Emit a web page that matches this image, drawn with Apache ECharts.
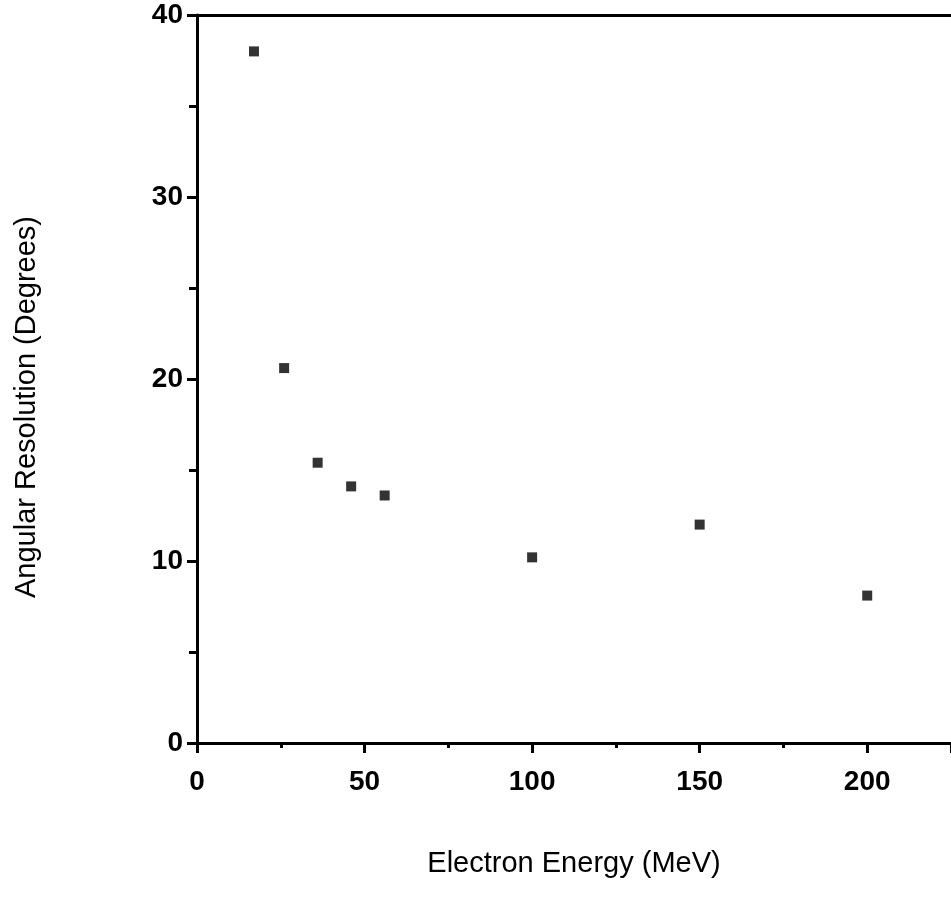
<!DOCTYPE html>
<html>
<head>
<meta charset="utf-8">
<script src="https://cdn.jsdelivr.net/npm/echarts@6/dist/echarts.min.js"></script>
<style>
html,body{margin:0;padding:0;background:#fff;}
#chart{width:951px;height:897px;}
</style>
</head>
<body>
<div id="chart"></div>
<script>
// Data
var energies = [17, 26, 36, 46, 56, 100, 150, 200];            // Electron Energy (MeV)
var resolutions = [38.0, 20.6, 15.4, 14.1, 13.6, 10.2, 12.0, 8.1]; // Angular Resolution (Degrees)
var xTitle = 'Electron Energy (MeV)';
var yTitle = 'Angular Resolution (Degrees)';

var points = energies.map(function (e, i) { return [e, resolutions[i]]; });

var font = '"Liberation Sans", Arial, Helvetica, sans-serif';
var chart = echarts.init(document.getElementById('chart'), null, {renderer: 'canvas'});
chart.setOption({
  animation: false,
  backgroundColor: '#ffffff',
  grid: {
    left: 197, top: 15, width: 756, height: 728,
    show: false
  },
  xAxis: [{
    type: 'value', min: 0, max: 225, interval: 50,
    name: xTitle, nameLocation: 'middle', nameGap: 106,
    nameTextStyle: {color: '#000', fontFamily: font, fontSize: 29},
    axisLine: {show: true, onZero: false, lineStyle: {color: '#000', width: 3}},
    axisTick: {show: true, inside: false, length: 10, lineStyle: {color: '#000', width: 3}},
    minorTick: {show: true, splitNumber: 2, length: 5, lineStyle: {color: '#000', width: 3}},
    axisLabel: {color: '#000', fontFamily: font, fontSize: 28, fontWeight: 'bold', margin: 25, showMaxLabel: false},
    splitLine: {show: false}
  }, {
    type: 'value', position: 'top', min: 0, max: 225,
    axisLine: {show: true, onZero: false, lineStyle: {color: '#000', width: 3}},
    axisTick: {show: false}, axisLabel: {show: false}, splitLine: {show: false}
  }],
  yAxis: {
    type: 'value', min: 0, max: 40, interval: 10,
    name: yTitle, nameLocation: 'middle', nameGap: 156, nameRotate: 90,
    nameTextStyle: {color: '#000', fontFamily: font, fontSize: 29, padding: [0, 56, 0, 0]},
    axisLine: {show: true, onZero: false, lineStyle: {color: '#000', width: 3}},
    axisTick: {show: true, inside: false, length: 10, lineStyle: {color: '#000', width: 3}},
    minorTick: {show: true, splitNumber: 2, length: 8, lineStyle: {color: '#000', width: 3}},
    axisLabel: {color: '#000', fontFamily: font, fontSize: 28, fontWeight: 'bold', margin: 14},
    splitLine: {show: false}
  },
  series: [{
    type: 'scatter',
    xAxisIndex: 0,
    data: points,
    symbol: 'rect',
    symbolSize: 10,
    itemStyle: {color: '#000'}
  }]
});
</script>
</body>
</html>
